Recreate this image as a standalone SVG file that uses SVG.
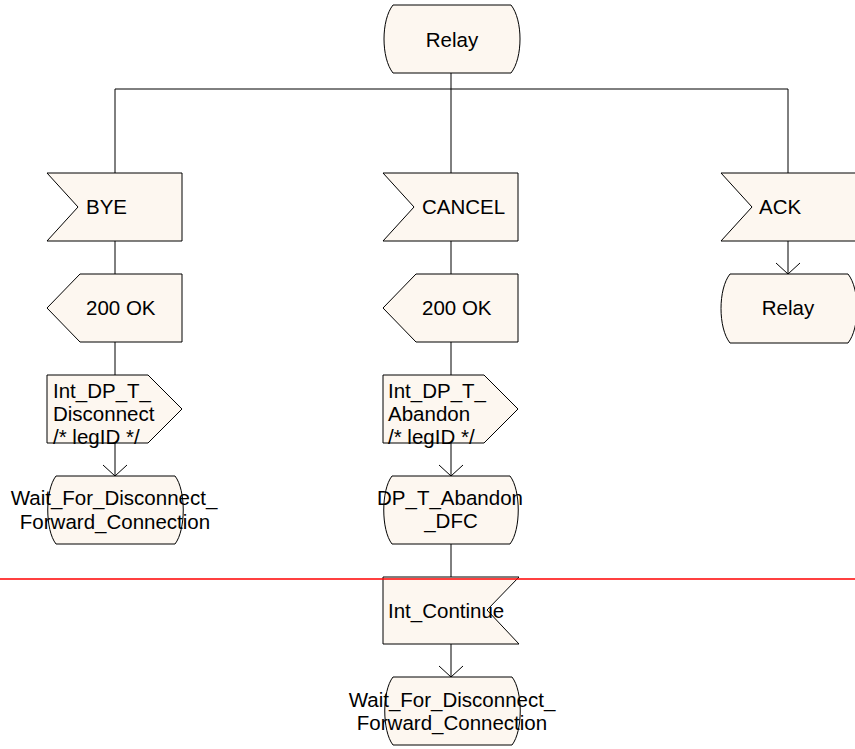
<svg xmlns="http://www.w3.org/2000/svg" width="855" height="749" viewBox="0 0 855 749">
<defs>
<style>
.s{fill:#fdf7f0;stroke:#000;stroke-width:1}
.t{font-family:"Liberation Sans",Arial,sans-serif;font-size:20.5px;fill:#000}
.c{stroke:#000;stroke-width:1;fill:none}
.m{text-anchor:middle}
</style>
<marker id="a" markerWidth="26" markerHeight="14" refX="13" refY="12" orient="0" markerUnits="userSpaceOnUse" viewBox="0 0 26 14">
<path d="M1,1 L13,12 L25,1" fill="none" stroke="#000" stroke-width="1"/>
</marker>
</defs>
<rect width="855" height="749" fill="#fff"/>
<g id="connectors">
<path class="c" d="M451,73 V89 M115,89 H788 M115,89 V173 M451,89 V173 M788,89 V173"/>
<path class="c" d="M115,241 V274 M115,342 V375 M451,241 V274 M451,342 V375 M451,544 V577"/>
<line class="c" x1="115" y1="443" x2="115" y2="476" marker-end="url(#a)"/>
<line class="c" x1="451" y1="443" x2="451" y2="476" marker-end="url(#a)"/>
<line class="c" x1="451" y1="644" x2="451" y2="677" marker-end="url(#a)"/>
<line class="c" x1="788" y1="241" x2="788" y2="274" marker-end="url(#a)"/>
</g>
<g id="relay_top">
<path class="s" d="M393,5 H511 C523,20 523,58 511,73 H393 C381,58 381,20 393,5 Z"/>
<text class="t m" x="452" y="47">Relay</text>
</g>
<g id="bye">
<path class="s" d="M47,173 H182 V241 H47 L78,207 Z"/>
<text class="t" x="86" y="214">BYE</text>
</g>
<g id="cancel">
<path class="s" d="M383,173 H518 V241 H383 L414,207 Z"/>
<text class="t" x="422" y="214">CANCEL</text>
</g>
<g id="ack">
<path class="s" d="M721,173 H856 V241 H721 L752,207 Z"/>
<text class="t" x="759" y="214">ACK</text>
</g>
<g id="ok1">
<path class="s" d="M80,274 H182 V342 H80 L47,308 Z"/>
<text class="t" x="86" y="315">200 OK</text>
</g>
<g id="ok2">
<path class="s" d="M416,274 H518 V342 H416 L383,308 Z"/>
<text class="t" x="422" y="315">200 OK</text>
</g>
<g id="relay_ack">
<path class="s" d="M730,274 H848 C860,289 860,328 848,343 H730 C718,328 718,289 730,274 Z"/>
<text class="t m" x="788" y="315">Relay</text>
</g>
<g id="int_dp_t_disconnect">
<path class="s" d="M47,375 H148 L182,409 L148,443 H47 Z"/>
<text class="t" x="53" y="398">Int_DP_T_</text>
<text class="t" x="53" y="421">Disconnect</text>
<text class="t" x="53" y="444">/* legID */</text>
</g>
<g id="int_dp_t_abandon">
<path class="s" d="M383,375 H484 L518,409 L484,443 H383 Z"/>
<text class="t" x="388" y="398">Int_DP_T_</text>
<text class="t" x="388" y="421">Abandon</text>
<text class="t" x="388" y="444">/* legID */</text>
</g>
<g id="wait1">
<path class="s" d="M56,476 H175 C186,490 186,530 175,544 H56 C45,530 45,490 56,476 Z"/>
<text class="t m" x="114" y="505">Wait_For_Disconnect_</text>
<text class="t m" x="115" y="529">Forward_Connection</text>
</g>
<g id="dp_t_abandon_dfc">
<path class="s" d="M392,476 H510 C521,490 521,530 510,544 H392 C381,530 381,490 392,476 Z"/>
<text class="t m" x="450" y="505">DP_T_Abandon</text>
<text class="t m" x="451" y="528">_DFC</text>
</g>
<g id="int_continue">
<path class="s" d="M383,577 H519 L487,610 L519,644 H383 Z"/>
<text class="t" x="388" y="618">Int_Continue</text>
</g>
<g id="wait2">
<path class="s" d="M393,677 H512 C523,691 523,731 512,745 H393 C382,731 382,691 393,677 Z"/>
<text class="t m" x="452" y="707">Wait_For_Disconnect_</text>
<text class="t m" x="452" y="730">Forward_Connection</text>
</g>
<line x1="0" y1="579" x2="855" y2="579" stroke="#f00" stroke-width="1.5"/>
</svg>
